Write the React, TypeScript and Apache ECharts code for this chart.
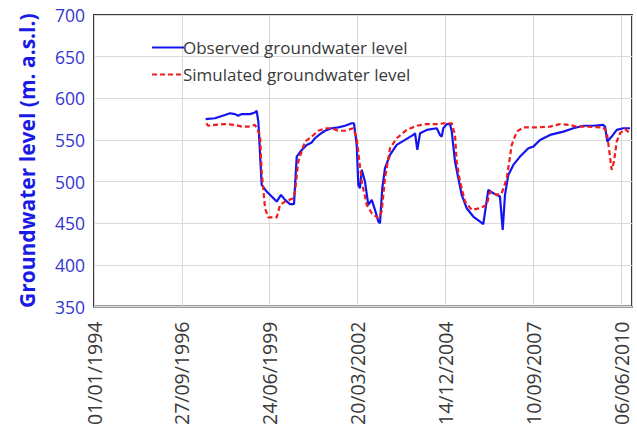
import React, { useEffect, useRef } from "react";
import * as echarts from "echarts";

// Observed groundwater level (m a.s.l.)
const observedDates = [
  "1997-06-25", "1997-10-09", "1998-01-31", "1998-03-29", "1998-05-25", "1998-07-02",
  "1998-08-10", "1998-11-12", "1999-01-08", "1999-01-27", "1999-02-15", "1999-03-25",
  "1999-05-21", "1999-09-12", "1999-10-31", "1999-12-16", "2000-02-10", "2000-03-27",
  "2000-04-27", "2000-06-23", "2000-08-19", "2000-10-15", "2000-11-21", "2001-01-17",
  "2001-03-15", "2001-05-30", "2001-08-13", "2001-10-29", "2002-01-13", "2002-02-08",
  "2002-03-11", "2002-03-29", "2002-04-17", "2002-05-07", "2002-06-13", "2002-07-21",
  "2002-08-29", "2002-10-05", "2002-11-12", "2002-12-01", "2002-12-27", "2003-01-27",
  "2003-03-25", "2003-06-09", "2003-09-12", "2003-12-15", "2004-01-04", "2004-01-30",
  "2004-03-01", "2004-05-16", "2004-09-07", "2004-10-14", "2004-11-03", "2004-11-21",
  "2004-12-30", "2005-02-05", "2005-02-25", "2005-04-03", "2005-05-11", "2005-06-18",
  "2005-08-14", "2005-10-28", "2006-01-13", "2006-02-19", "2006-04-17", "2006-06-13",
  "2006-08-28", "2006-09-28", "2006-10-24", "2006-12-01", "2007-01-27", "2007-04-13",
  "2007-07-17", "2007-09-11", "2007-11-27", "2008-03-20", "2008-08-18", "2008-12-10",
  "2009-04-03", "2009-07-26", "2009-11-16", "2009-12-06", "2010-01-01", "2010-02-20",
  "2010-04-18", "2010-07-02", "2010-09-16",
];
const observedLevels = [
  575, 576, 580, 582, 581, 579,
  581, 581, 583, 585, 572, 496,
  488, 476, 484, 478, 473, 473,
  530, 538, 544, 547, 552, 557,
  561, 564, 565, 567, 570, 570,
  544, 496, 492, 514, 500, 472,
  478, 466, 452, 450, 492, 516,
  532, 544, 550, 556, 558, 538,
  558, 562, 564, 556, 554, 564,
  569, 569, 560, 524, 504, 484,
  468, 458, 452, 449, 490, 486,
  482, 442, 484, 508, 520, 530,
  540, 542, 550, 556, 560, 564,
  567, 567, 568, 566, 548, 554,
  562, 564, 564,
];

// Simulated groundwater level (m a.s.l.)
const simulatedDates = [
  "1997-07-06", "1997-07-21", "1997-10-09", "1998-01-31", "1998-05-25", "1998-08-10",
  "1998-10-24", "1999-01-08", "1999-03-06", "1999-03-25", "1999-05-02", "1999-06-08",
  "1999-09-12", "1999-10-20", "1999-12-16", "2000-03-19", "2000-04-07", "2000-05-15",
  "2000-07-30", "2000-10-15", "2000-12-29", "2001-03-15", "2001-05-30", "2001-08-13",
  "2001-10-29", "2002-01-31", "2002-03-11", "2002-05-07", "2002-07-03", "2002-08-29",
  "2002-11-12", "2002-12-20", "2003-01-27", "2003-03-25", "2003-06-09", "2003-10-01",
  "2004-01-23", "2004-05-16", "2004-09-07", "2004-12-10", "2005-02-25", "2005-04-03",
  "2005-04-22", "2005-05-30", "2005-07-26", "2005-10-10", "2006-01-13", "2006-03-30",
  "2006-05-07", "2006-07-22", "2006-09-17", "2006-11-13", "2007-01-09", "2007-03-07",
  "2007-05-21", "2007-10-20", "2008-03-20", "2008-07-12", "2008-11-02", "2009-01-18",
  "2009-04-03", "2009-11-16", "2009-12-25", "2010-01-24", "2010-02-20", "2010-03-18",
  "2010-04-18", "2010-05-26", "2010-07-22", "2010-09-16",
];
const simulatedLevels = [
  570, 567, 568, 569, 568, 566,
  566, 568, 556, 512, 468, 457,
  457, 472, 476, 480, 488, 524,
  548, 554, 561, 564, 564, 561,
  561, 564, 552, 500, 472, 462,
  456, 464, 504, 540, 552, 562,
  567, 569, 569, 570, 570, 556,
  524, 500, 476, 466, 468, 472,
  488, 484, 486, 504, 544, 560,
  565, 565, 566, 569, 568, 566,
  566, 565, 560, 536, 514, 524,
  548, 558, 563, 558,
];

const xTickStepDays = 1000;
const xMaxDays = 6125;
const yMin = 350;
const yMax = 700;
const yStep = 50;

const ORIGIN = Date.UTC(1994, 0, 1);
const DAY = 86400000;

const toDays = (s: string) => {
  const [y, m, d] = s.split("-").map(Number);
  return (Date.UTC(y, m - 1, d) - ORIGIN) / DAY;
};

const fmtDate = (days: number) => {
  const dt = new Date(ORIGIN + days * DAY);
  const dd = String(dt.getUTCDate()).padStart(2, "0");
  const mm = String(dt.getUTCMonth() + 1).padStart(2, "0");
  return `${dd}/${mm}/${dt.getUTCFullYear()}`;
};

const FONT = "'Open Sans', 'Noto Sans', sans-serif";

export default function App() {
  const ref = useRef<HTMLDivElement>(null);

  useEffect(() => {
    if (!ref.current) return;
    const chart = echarts.init(ref.current, null, { renderer: "svg" });

    const observed = observedDates.map((d, i) => [toDays(d), observedLevels[i]]);
    const simulated = simulatedDates.map((d, i) => [toDays(d), simulatedLevels[i]]);

    chart.setOption({
      animation: false,
      backgroundColor: "#ffffff",
      grid: {
        left: 94,
        right: 5,
        top: 15,
        bottom: 121,
        show: true,
        borderColor: "#3a3a3a",
        borderWidth: 2,
        containLabel: false,
      },
      legend: {
        orient: "vertical",
        left: 146,
        top: 34,
        itemWidth: 32,
        itemHeight: 14,
        itemGap: 10,
        itemStyle: { opacity: 0 },
        textStyle: { fontFamily: FONT, fontSize: 17, color: "#3a3a3a", padding: [0, 0, 0, -6] },
        data: ["Observed groundwater level", "Simulated groundwater level"],
      },
      xAxis: {
        type: "value",
        min: 0,
        max: xMaxDays,
        interval: xTickStepDays,
        axisLine: { show: false },
        axisTick: { show: false },
        splitLine: { show: true, lineStyle: { color: "#d9d9d9", width: 1 } },
        axisLabel: {
          rotate: 90,
          margin: 15,
          showMaxLabel: false,
          fontFamily: FONT,
          fontSize: 19.5,
          color: "#3a3a3a",
          formatter: (v: number) => (v % xTickStepDays === 0 ? fmtDate(v) : ""),
        },
      },
      yAxis: {
        type: "value",
        min: yMin,
        max: yMax,
        interval: yStep,
        name: "Groundwater level (m. a.s.l.)",
        nameLocation: "middle",
        nameGap: 57,
        nameRotate: 90,
        nameTextStyle: {
          fontFamily: FONT,
          fontSize: 21,
          fontWeight: "bold",
          color: "#1a1ae6",
        },
        axisLine: { show: false },
        axisTick: { show: false },
        splitLine: { show: true, lineStyle: { color: "#d9d9d9", width: 1 } },
        axisLabel: {
          margin: 9,
          fontFamily: FONT,
          fontSize: 17.5,
          color: "#3535cf",
        },
      },
      series: [
        {
          name: "Observed groundwater level",
          type: "line",
          data: observed,
          showSymbol: false,
          symbol: "none",
          lineStyle: { color: "#1414f0", width: 2.2 },
          itemStyle: { color: "#1414f0" },
          z: 3,
        },
        {
          name: "Simulated groundwater level",
          type: "line",
          data: simulated,
          showSymbol: false,
          symbol: "none",
          lineStyle: { color: "#ee1c1c", width: 2.2, type: [5, 3] },
          itemStyle: { color: "#ee1c1c" },
          z: 4,
        },
      ],
    });

    return () => chart.dispose();
  }, []);

  return (
    <div
      ref={ref}
      style={{ position: "fixed", left: 0, top: 0, width: 637, height: 428, background: "#fff" }}
    />
  );
}
